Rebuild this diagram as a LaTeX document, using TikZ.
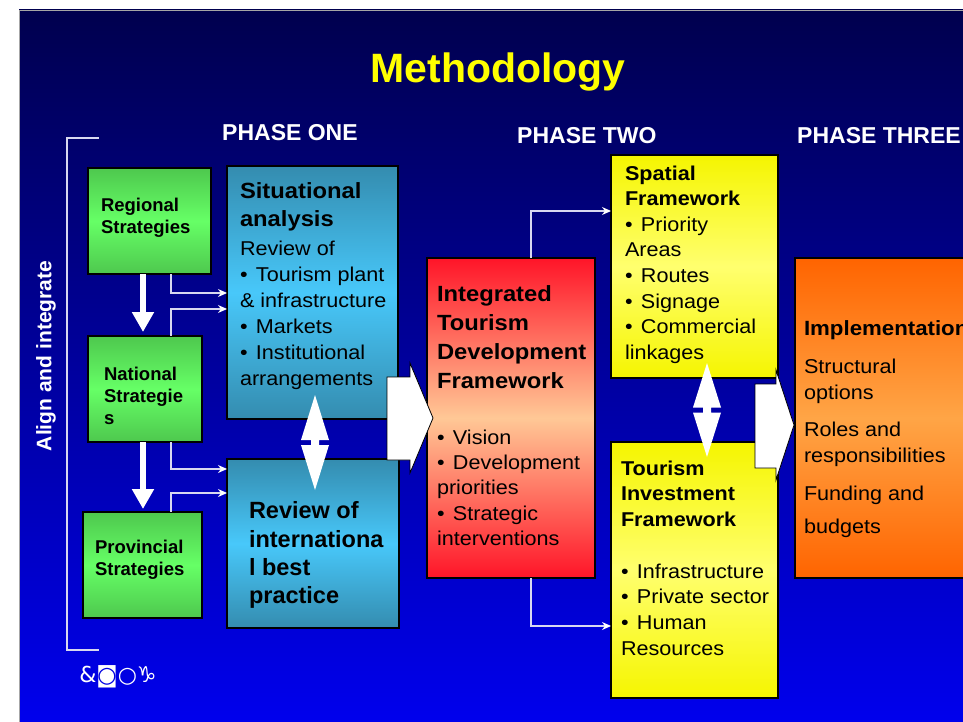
\documentclass[tikz,border=0pt]{standalone}
\usepackage{fontspec}
\setmainfont{Liberation Sans}
\newfontfamily\widefont{Liberation Sans}[FakeStretch=1.08]
\newfontfamily\symbfont{DejaVu Sans}
\usetikzlibrary{arrows.meta,calc}
\definecolor{bgtop}{RGB}{0,0,78}
\definecolor{bgbot}{RGB}{0,0,240}
\definecolor{grA}{RGB}{78,200,78}
\definecolor{grB}{RGB}{102,255,102}
\definecolor{blA}{RGB}{52,140,175}
\definecolor{blB}{RGB}{72,200,250}
\definecolor{rdA}{RGB}{255,20,40}
\definecolor{rdB}{RGB}{255,200,150}
\definecolor{ylA}{RGB}{245,245,0}
\definecolor{ylB}{RGB}{255,255,110}
\definecolor{orA}{RGB}{255,100,0}
\definecolor{orB}{RGB}{255,165,70}
\definecolor{lnc}{RGB}{215,215,240}
\definecolor{ttl}{RGB}{255,255,0}
\newcommand\bul{\textbullet\hspace{0.42em}}
\begin{document}
\begin{tikzpicture}[x=1pt,y=-1pt,
  box/.style={draw=black,line width=1.3pt,inner sep=0pt,outer sep=0pt,anchor=north west},
  gbox/.style={box,top color=grA,bottom color=grA,middle color=grB},
  bbox/.style={box,top color=blA,bottom color=blA,middle color=blB},
  rbox/.style={box,top color=rdA,bottom color=rdA,middle color=rdB},
  ybox/.style={box,top color=ylA,bottom color=ylA,middle color=ylB},
  obox/.style={box,top color=orA,bottom color=orA,middle color=orB},
  txt/.style={anchor=north west,inner sep=0pt,outer sep=0pt,align=left,text=black},
  phase/.style={anchor=base west,inner sep=0pt,text=white,font=\bfseries\fontsize{23}{27}\selectfont},
  conn/.style={draw=lnc,line width=1.2pt,-{Stealth[length=9pt,width=8pt,fill=white,color=white]}},
  fat/.style={draw=white,line width=6pt,-{Triangle[length=20pt,width=21pt]}},
  blockarrow/.style={fill=white,draw=black,line width=0.8pt,line join=miter},
  dblarrow/.style={fill=white},
]
\useasboundingbox (0,0) rectangle (963,722);
\clip (0,0) rectangle (963,722);
\fill[white] (0,0) rectangle (963,722);
\shade[top color=bgtop,bottom color=bgbot,draw=gray!70,line width=0.6pt] (19,10) rectangle (975,735);

% title and phase labels
\node[anchor=base,inner sep=0pt,text=ttl,font=\bfseries\fontsize{41}{48}\selectfont] (title) at (498,83) {Methodology};
\node[phase] (p1) at (222,140.7) {PHASE ONE};
\node[phase] (p2) at (517,144) {PHASE TWO};
\node[phase] (p3) at (797,144) {PHASE THREE};

% align and integrate bracket
\node[rotate=90,inner sep=0pt,text=white,font=\bfseries\fontsize{21}{24}\selectfont] (alig) at (46,356) {Align and integrate};
\draw[draw=lnc,line width=1.3pt] (99,138) -- (67,138) -- (67,650) -- (99,650);

% boxes
\node[gbox,minimum width=123pt,minimum height=106pt] (reg) at (88,168) {};
\node[gbox,minimum width=114pt,minimum height=106pt] (nat) at (88,336) {};
\node[gbox,minimum width=119pt,minimum height=106pt] (prov) at (83,512) {};
\node[bbox,minimum width=171pt,minimum height=253pt] (sit) at (227,166) {};
\node[bbox,minimum width=172pt,minimum height=169pt] (rev) at (227,459) {};
\node[rbox,minimum width=168pt,minimum height=320pt] (itd) at (427,258) {};
\node[ybox,minimum width=167pt,minimum height=223pt] (spa) at (611,155) {};
\node[ybox,minimum width=167pt,minimum height=256pt] (inv) at (611,442) {};
\node[obox,minimum width=220pt,minimum height=320pt] (imp) at (795,258) {};

% green texts
\node[txt,font=\bfseries\fontsize{18.5}{22}\selectfont] (regt) at (101,198.4) {Regional\\Strategies};
\node[txt,font=\bfseries\fontsize{18.5}{22}\selectfont] (natt) at (104,367.4) {National\\Strategie\\s};
\node[txt,font=\bfseries\fontsize{18.5}{22}\selectfont] (provt) at (95,540.4) {Provincial\\Strategies};

% phase one texts
\node[txt,font=\widefont\bfseries\fontsize{22}{28}\selectfont] (sith) at (240,182.1) {Situational\\analysis};
\node[txt,font=\widefont\fontsize{20}{26}\selectfont] (sitb) at (240,240.8) {Review of\\\bul Tourism plant\\\& infrastructure\\\bul Markets\\\bul Institutional\\arrangements};
\node[txt,font=\bfseries\fontsize{23.5}{28.4}\selectfont] (revt) at (249,501.6) {Review of\\internationa\\l best\\practice};

% phase two texts
\node[txt,font=\widefont\bfseries\fontsize{22}{29}\selectfont] (itdh) at (437,285.1) {Integrated\\Tourism\\Development\\Framework};
\node[txt,font=\widefont\fontsize{20}{25.25}\selectfont] (itdb) at (437,429.8) {\bul Vision\\\bul Development\\priorities\\\bul Strategic\\interventions};
\node[txt,font=\widefont\bfseries\fontsize{20}{25}\selectfont] (spah) at (625,165.8) {Spatial\\Framework};
\node[txt,font=\widefont\fontsize{20}{25.6}\selectfont] (spab) at (625,216.8) {\bul Priority\\Areas\\\bul Routes\\\bul Signage\\\bul Commercial\\linkages};
\node[txt,font=\widefont\bfseries\fontsize{20}{25.5}\selectfont] (invh) at (621,460.8) {Tourism\\Investment\\Framework};
\node[txt,font=\widefont\fontsize{20}{25.7}\selectfont] (invb) at (621,563.8) {\bul Infrastructure\\\bul Private sector\\\bul Human\\Resources};

% phase three texts
\node[txt,font=\widefont\bfseries\fontsize{20.6}{25}\selectfont] (imph) at (804,320.6) {Implementation};
\node[txt,font=\widefont\fontsize{20}{26}\selectfont] (impb) at (804,358.8) {Structural\\options\\[11pt]Roles and\\responsibilities\\[12pt]Funding and\\[7pt]budgets};

% thin connectors
\draw[conn] ($(reg.south west)+(83,0)$) |- ($(sit.north west)+(0,127)$);
\draw[conn] ($(nat.north west)+(83,0)$) |- ($(sit.north west)+(0,143)$);
\draw[conn] ($(nat.south west)+(83,0)$) |- ($(rev.north west)+(0,10)$);
\draw[conn] ($(prov.north west)+(88,0)$) |- ($(rev.north west)+(0,34)$);
\draw[conn] ($(itd.north west)+(104,0)$) |- ($(spa.north west)+(0,56)$);
\draw[conn] ($(itd.south west)+(104,0)$) |- ($(inv.north west)+(0,184)$);

% thick white arrows
\draw[fat] ($(reg.south west)+(55,0)$) -- ($(nat.north west)+(55,-4)$);
\draw[fat] ($(nat.south west)+(55,0)$) -- ($(prov.north west)+(60,-3)$);

% block arrows
\draw[blockarrow] (387,377) -- (410,377) -- (410,363) -- (433,418) -- (410,473) -- (410,460) -- (387,460) -- cycle;
\draw[blockarrow] (755,384) -- (776,384) -- (776,370) -- (794,425) -- (776,480) -- (776,468) -- (755,468) -- cycle;

% double arrows
\fill[dblarrow,shift={(315,442.5)}] (0,-47.5) -- (14,-2.5) -- (4,-2.5) -- (4,2.5) -- (14,2.5) -- (0,47.5) -- (-14,2.5) -- (-4,2.5) -- (-4,-2.5) -- (-14,-2.5) -- cycle;
\fill[dblarrow,shift={(707,410)}] (0,-47) -- (14,-2.5) -- (4,-2.5) -- (4,2.5) -- (14,2.5) -- (0,47) -- (-14,2.5) -- (-4,2.5) -- (-4,-2.5) -- (-14,-2.5) -- cycle;

% symbol text
\node[inner sep=0pt,text=white,font=\symbfont\fontsize{22}{26}\selectfont] (sym) at (118,677) {\&◙○♑};
\end{tikzpicture}
\end{document}
